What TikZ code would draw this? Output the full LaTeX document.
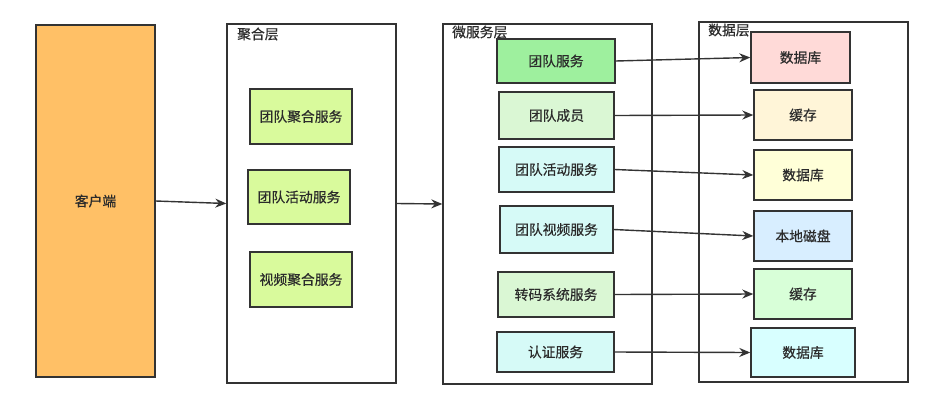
\documentclass[tikz,border=0pt]{standalone}
\usepackage{fontspec}
\setmainfont{Noto Sans CJK SC}[FakeBold=0.5]
\usetikzlibrary{arrows.meta}
\definecolor{txt}{HTML}{2B2B2B}
\definecolor{edge}{HTML}{333333}
\tikzset{
  box/.style={draw=edge, line width=1.4pt, inner sep=0pt, text=txt, font=\fontsize{13.8}{15}\selectfont},
  layer/.style={draw=edge, line width=1.4pt, fill=white, inner sep=0pt},
  layerlabel/.style={anchor=west, inner sep=0pt, text=txt, font=\fontsize{13.8}{15}\selectfont},
  conn/.style={draw=edge, line width=1.4pt, -{Stealth[length=11pt,width=9pt]}}
}
\begin{document}
\begin{tikzpicture}[x=1pt,y=-1pt]
\useasboundingbox[fill=white] (0,0) rectangle (949,402);
% client
\node[box, fill={rgb,255:red,255;green,192;blue,102}, minimum width=119pt, minimum height=352pt] (client) at (95.5,201) {客户端};
% layers
\node[layer, minimum width=169pt, minimum height=359pt] (agg) at (311.5,203.5) {};
\node[layer, minimum width=209pt, minimum height=360pt] (micro) at (547.5,204) {};
\node[layer, minimum width=209pt, minimum height=360pt] (data) at (803.5,202) {};
\node[layerlabel] (agglbl) at (237,34) {聚合层};
\node[layerlabel] (microlbl) at (452,32) {微服务层};
\node[layerlabel] (datalbl) at (708,30) {数据层};
% aggregation boxes
\node[box, fill={rgb,255:red,217;green,250;blue,156}, minimum width=102pt, minimum height=55pt] (a1) at (301,116.5) {团队聚合服务};
\node[box, fill={rgb,255:red,217;green,250;blue,156}, minimum width=102pt, minimum height=54pt] (a2) at (299,197) {团队活动服务};
\node[box, fill={rgb,255:red,217;green,250;blue,156}, minimum width=102pt, minimum height=55pt] (a3) at (301,279.5) {视频聚合服务};
% micro boxes
\node[box, fill={rgb,255:red,158;green,240;blue,158}, minimum width=118pt, minimum height=44pt] (m1) at (556,61) {团队服务};
\node[box, fill={rgb,255:red,218;green,247;blue,212}, minimum width=115pt, minimum height=47pt] (m2) at (556.5,115.5) {团队成员};
\node[box, fill={rgb,255:red,214;green,250;blue,247}, minimum width=115pt, minimum height=45pt] (m3) at (556.5,169.5) {团队活动服务};
\node[box, fill={rgb,255:red,214;green,250;blue,247}, minimum width=113pt, minimum height=47pt] (m4) at (556.5,229.5) {团队视频服务};
\node[box, fill={rgb,255:red,218;green,247;blue,212}, minimum width=116pt, minimum height=45pt] (m5) at (556,294.5) {转码系统服务};
\node[box, fill={rgb,255:red,214;green,250;blue,247}, minimum width=117pt, minimum height=40pt] (m6) at (555.5,352) {认证服务};
% data boxes
\node[box, fill={rgb,255:red,255;green,218;blue,216}, minimum width=99pt, minimum height=51pt] (d1) at (800.5,57.5) {数据库};
\node[box, fill={rgb,255:red,255;green,245;blue,216}, minimum width=98pt, minimum height=50pt] (d2) at (803,115) {缓存};
\node[box, fill={rgb,255:red,255;green,255;blue,216}, minimum width=98pt, minimum height=50pt] (d3) at (803,175) {数据库};
\node[box, fill={rgb,255:red,216;green,238;blue,255}, minimum width=98pt, minimum height=50pt] (d4) at (803,236) {本地磁盘};
\node[box, fill={rgb,255:red,216;green,255;blue,216}, minimum width=98pt, minimum height=50pt] (d5) at (803,294) {缓存};
\node[box, fill={rgb,255:red,216;green,255;blue,255}, minimum width=104pt, minimum height=49pt] (d6) at (803,352.5) {数据库};
% connectors
\draw[conn] (client.east) -- (agg.west);
\draw[conn] (agg.east) -- (micro.west);
\draw[conn] (m1.east) -- (d1.west);
\draw[conn] (m2.east) -- (d2.west);
\draw[conn] (m3.east) -- (d3.west);
\draw[conn] (m4.east) -- (d4.west);
\draw[conn] (m5.east) -- (d5.west);
\draw[conn] (m6.east) -- (d6.west);
\end{tikzpicture}
\end{document}
